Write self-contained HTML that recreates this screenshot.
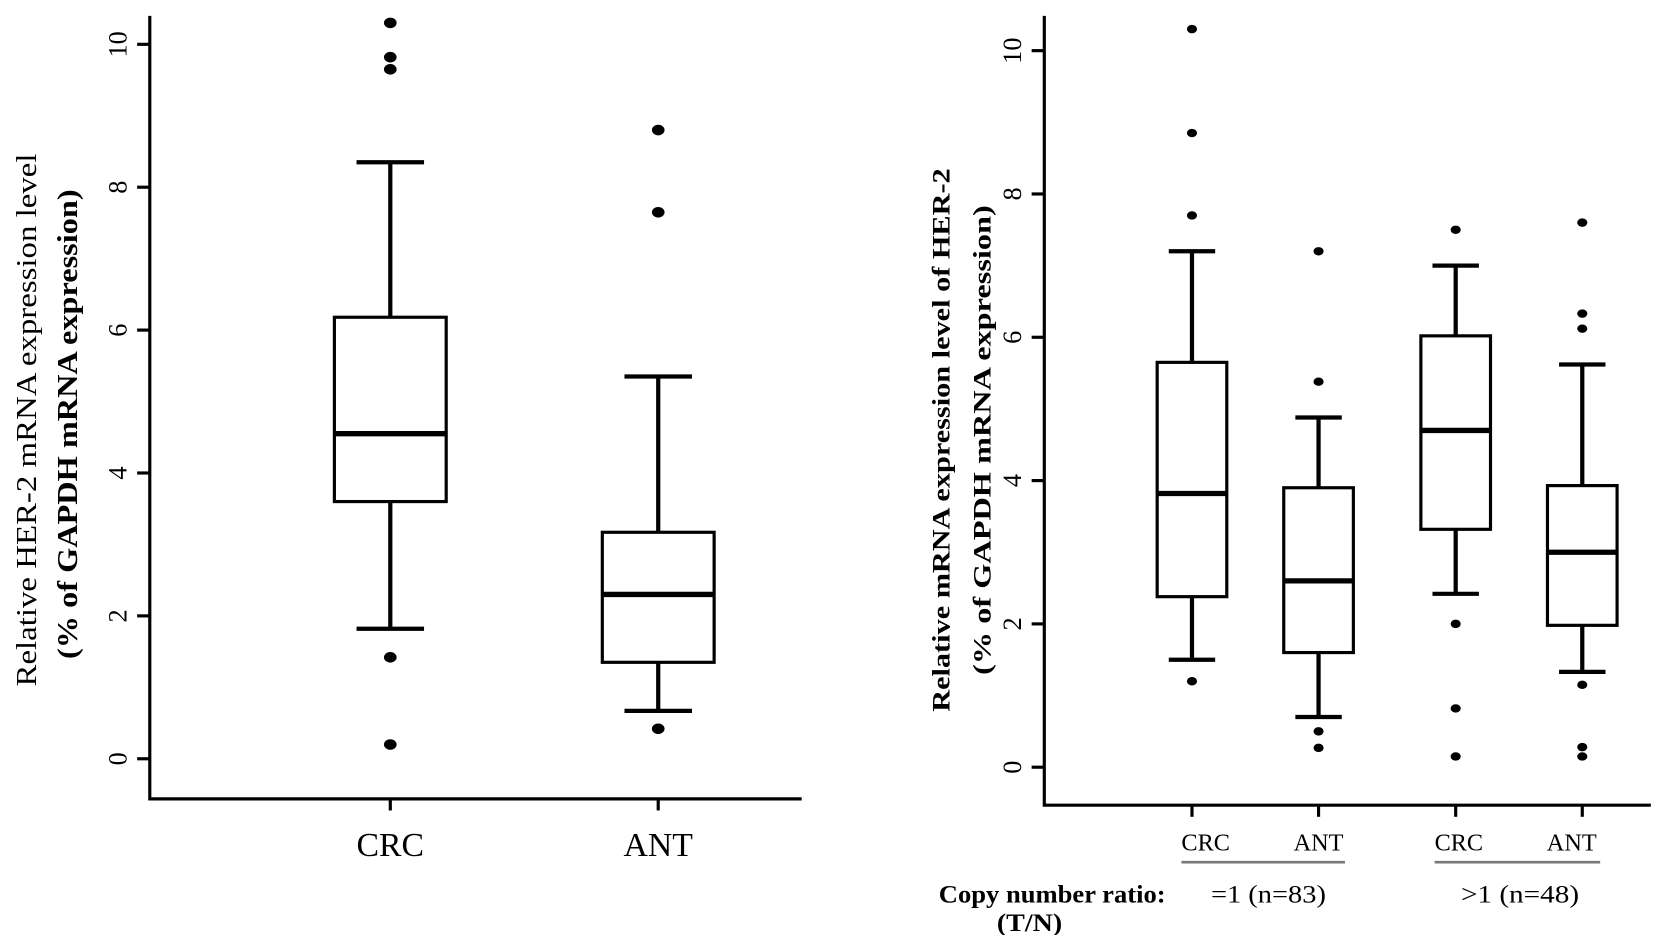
<!DOCTYPE html>
<html><head><meta charset="utf-8"><style>
html,body{margin:0;padding:0;background:#fff;}
svg{display:block;font-family:"Liberation Serif",serif;}
</style></head><body>
<svg id="chart" width="1654" height="935" viewBox="0 0 1568 886" preserveAspectRatio="none" xmlns="http://www.w3.org/2000/svg">
<g id="left"></g>
<g id="right"></g>
<text transform="translate(34,398) rotate(-90)" text-anchor="middle" font-size="27" textLength="505" lengthAdjust="spacingAndGlyphs">Relative  HER-2 mRNA expression level</text>
<text transform="translate(73,402) rotate(-90)" text-anchor="middle" font-size="27" font-weight="bold" textLength="445" lengthAdjust="spacingAndGlyphs">(% of GAPDH mRNA expression)</text>
<text transform="translate(900,417) rotate(-90)" text-anchor="middle" font-size="24" font-weight="bold" textLength="515" lengthAdjust="spacingAndGlyphs">Relative mRNA expression level of HER-2</text>
<text transform="translate(939,417) rotate(-90)" text-anchor="middle" font-size="24" font-weight="bold" textLength="445" lengthAdjust="spacingAndGlyphs">(% of GAPDH mRNA expression)</text>
<line x1="1120" y1="817" x2="1275" y2="817" stroke="#777" stroke-width="2.5"/>
<line x1="1360" y1="817" x2="1517" y2="817" stroke="#777" stroke-width="2.5"/>
<text x="890" y="855" font-size="24" font-weight="bold" textLength="215" lengthAdjust="spacingAndGlyphs">Copy number ratio:</text>
<text x="945" y="882" font-size="24" font-weight="bold" textLength="62" lengthAdjust="spacingAndGlyphs">(T/N)</text>
<text x="1148" y="855" font-size="24" textLength="109" lengthAdjust="spacingAndGlyphs">=1  (n=83)</text>
<text x="1385" y="855" font-size="24" textLength="112" lengthAdjust="spacingAndGlyphs">&gt;1  (n=48)</text>
</svg>
<script>
const leftCats=["CRC","ANT"];
const leftQ1=[3.6,1.35];
const leftMed=[4.55,2.3];
const leftQ3=[6.18,3.17];
const leftLow=[1.82,0.67];
const leftHigh=[8.35,5.35];
const leftOut=[[10.3,9.82,9.65,1.42,0.2],[8.8,7.65,0.42]];
const rightCats=["CRC","ANT","CRC","ANT"];
const rightQ1=[2.38,1.6,3.32,1.98];
const rightMed=[3.82,2.6,4.7,3.0];
const rightQ3=[5.65,3.9,6.02,3.93];
const rightLow=[1.5,0.7,2.42,1.33];
const rightHigh=[7.2,4.88,7.0,5.62];
const rightOut=[[10.3,8.85,7.7,1.2],[7.2,5.38,0.5,0.27],[7.5,2.0,0.82,0.15],[7.6,6.33,6.12,1.15,0.28,0.15]];
const yTicks=[0,2,4,6,8,10];
const NS="http://www.w3.org/2000/svg";
function mk(parent,tag,attrs){const e=document.createElementNS(NS,tag);for(const k in attrs)e.setAttribute(k,attrs[k]);parent.appendChild(e);return e;}
function panel(g,cfg,cats,q1,med,q3,lo,hi,out){
  const y=v=>cfg.y0+(cfg.y10-cfg.y0)*v/10;
  const ax=mk(g,'path',{d:`M${cfg.ax},${cfg.top}V${cfg.base}H${cfg.right}`,fill:'none',stroke:'#000','stroke-width':3});
  
  
  yTicks.forEach(t=>{
    const l=mk(g,'line',{x1:cfg.ax-12,x2:cfg.ax,y1:y(t),y2:y(t),stroke:'#000','stroke-width':3});
    
    
    const tx=mk(g,'text',{transform:`translate(${cfg.ax-22},${y(t)}) rotate(-90)`,'text-anchor':'middle','font-size':25});
    tx.textContent=t;
    
    
  });
  cats.forEach((c,i)=>{
    const cx=cfg.xs[i],hw=cfg.hw,cw=cfg.cw;
    const b=mk(g,'g',{});
    
    
    mk(b,'line',{x1:cx,x2:cx,y1:y(hi[i]),y2:y(lo[i]),stroke:'#000','stroke-width':4});
    mk(b,'line',{x1:cx-cw,x2:cx+cw,y1:y(hi[i]),y2:y(hi[i]),stroke:'#000','stroke-width':4});
    mk(b,'line',{x1:cx-cw,x2:cx+cw,y1:y(lo[i]),y2:y(lo[i]),stroke:'#000','stroke-width':4});
    mk(b,'rect',{x:cx-hw,y:y(q3[i]),width:2*hw,height:y(q1[i])-y(q3[i]),fill:'#fff',stroke:'#000','stroke-width':3});
    mk(b,'line',{x1:cx-hw,x2:cx+hw,y1:y(med[i]),y2:y(med[i]),stroke:'#000','stroke-width':5});
    out[i].forEach(v=>{
      const d=mk(b,'ellipse',{cx:cx,cy:y(v),rx:cfg.r*1.2,ry:cfg.r,fill:'#000'});
      
      
    });
    const tk=mk(g,'line',{x1:cx,x2:cx,y1:cfg.base,y2:cfg.base+11,stroke:'#000','stroke-width':3});
    
    
    const lb=mk(g,'text',{x:cx+(cfg.lx?cfg.lx[i]:0),y:cfg.ly,'text-anchor':'middle','font-size':cfg.fs});
    lb.textContent=c;
    
    
  });
}
panel(document.getElementById('left'),{ax:142,top:15,base:757,right:760,y0:719,y10:42,xs:[370,624],hw:53,cw:32,r:5,ly:811,fs:32},leftCats,leftQ1,leftMed,leftQ3,leftLow,leftHigh,leftOut);
panel(document.getElementById('right'),{ax:990,top:15,base:763,right:1565,y0:727,y10:48,xs:[1130,1250,1380,1500],hw:33,cw:22,r:4,ly:806,fs:23,lx:[13,0,3,-10]},rightCats,rightQ1,rightMed,rightQ3,rightLow,rightHigh,rightOut);
</script>
</body></html>
